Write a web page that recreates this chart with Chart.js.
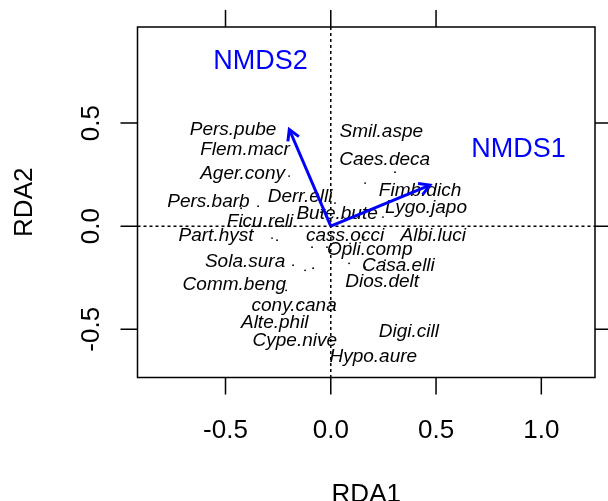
<!DOCTYPE html>
<html>
<head>
<meta charset="utf-8">
<script src="https://cdn.jsdelivr.net/npm/chart.js@4/dist/chart.umd.min.js"></script>
<style>
  html, body { margin: 0; padding: 0; background: #fff; }
  #wrap { width: 608px; height: 501px; }
</style>
</head>
<body>
<div id="wrap"><canvas id="rdaChart"></canvas></div>
<script>
// species scores (label centres)
const speciesNames = ['Pers.pube', 'Flem.macr', 'Ager.cony', 'Pers.barb', 'Derr.elli', 'Bute.bute',
  'Ficu.reli', 'Part.hyst', 'cass.occi', 'Smil.aspe', 'Caes.deca', 'Fimb.dich', 'Lygo.japo',
  'Albi.luci', 'Opli.comp', 'Casa.elli', 'Dios.delt', 'Digi.cill', 'Hypo.aure', 'Sola.sura',
  'Comm.beng', 'cony.cana', 'Alte.phil', 'Cype.nive'];
const speciesX = [-0.464, -0.407, -0.419, -0.581, -0.146, 0.030, -0.336, -0.545, 0.068, 0.240, 0.256,
  0.424, 0.452, 0.487, 0.185, 0.321, 0.244, 0.371, 0.202, -0.407, -0.458, -0.174, -0.266, -0.171];
const speciesY = [0.466, 0.372, 0.252, 0.121, 0.142, 0.062, 0.021, -0.044, -0.044, 0.458, 0.324,
  0.171, 0.091, -0.044, -0.113, -0.193, -0.270, -0.510, -0.634, -0.173, -0.286, -0.388, -0.469, -0.557];

// site scores (tiny dots)
const siteX = [-0.198, 0.163, 0.020, -0.345, -0.046, 0.248, -0.279, -0.255, -0.089, -0.018, 0.092,
  -0.122, -0.084, -0.179, 0.163, -0.426, 0.305, 0.087, -0.146, -0.212, 0.258, 0.157];
const siteY = [0.243, 0.209, 0.112, 0.097, 0.068, 0.044, -0.058, -0.068, -0.102, -0.102, -0.083,
  -0.214, -0.204, -0.189, -0.199, 0.087, 0.262, -0.180, -0.374, -0.311, -0.165, -0.053];

// fitted vectors
const vectorNames = ['NMDS1', 'NMDS2'];
const vectorX = [0.471, -0.197];
const vectorY = [0.199, 0.469];
const vectorLabelX = [0.892, -0.334];
const vectorLabelY = [0.372, 0.798];

const bottomTicks = [-0.5, 0, 0.5, 1.0];
const topTicks = [-0.5, 0, 0.5];
const leftTicks = [-0.5, 0, 0.5];
const rightTicks = [-0.5, 0, 0.5];

const FONT = '"Liberation Sans", Arial, Helvetica, sans-serif';
const BLUE = '#0000ff';

const ordiPlugin = {
  id: 'ordi',
  beforeDatasetsDraw(chart) {
    const { ctx, chartArea: a, scales: { x, y } } = chart;
    ctx.save();
    // dotted origin lines
    ctx.strokeStyle = '#000';
    ctx.lineWidth = 1.5;
    ctx.setLineDash([3, 3]);
    ctx.beginPath();
    ctx.moveTo(a.left, y.getPixelForValue(0));
    ctx.lineTo(a.right, y.getPixelForValue(0));
    ctx.moveTo(x.getPixelForValue(0), a.top);
    ctx.lineTo(x.getPixelForValue(0), a.bottom);
    ctx.stroke();
    ctx.setLineDash([]);

    // species labels
    const meta = chart.getDatasetMeta(1);
    ctx.fillStyle = '#000';
    ctx.font = 'italic 19px ' + FONT;
    ctx.textAlign = 'center';
    ctx.textBaseline = 'middle';
    meta.data.forEach((pt, i) => ctx.fillText(speciesNames[i], pt.x, pt.y));
    ctx.restore();
  },
  afterDatasetsDraw(chart) {
    const { ctx, chartArea: a, scales: { x, y } } = chart;
    ctx.save();
    // arrowheads
    ctx.strokeStyle = BLUE;
    ctx.lineWidth = 3;
    ctx.lineCap = 'butt';
    for (let d = 2; d < 2 + vectorNames.length; d++) {
      const pts = chart.getDatasetMeta(d).data;
      const x0 = pts[0].x, y0 = pts[0].y, x1 = pts[1].x, y1 = pts[1].y;
      const ang = Math.atan2(y1 - y0, x1 - x0);
      const len = 12, spread = Math.PI / 6;
      ctx.beginPath();
      ctx.moveTo(x1 - len * Math.cos(ang - spread), y1 - len * Math.sin(ang - spread));
      ctx.lineTo(x1, y1);
      ctx.lineTo(x1 - len * Math.cos(ang + spread), y1 - len * Math.sin(ang + spread));
      ctx.stroke();
    }
    // vector labels
    ctx.fillStyle = BLUE;
    ctx.font = '27px ' + FONT;
    ctx.textAlign = 'center';
    ctx.textBaseline = 'middle';
    vectorNames.forEach((n, i) => {
      ctx.fillText(n, x.getPixelForValue(vectorLabelX[i]), y.getPixelForValue(vectorLabelY[i]));
    });

    // frame
    ctx.strokeStyle = '#000';
    ctx.lineWidth = 1.5;
    ctx.strokeRect(a.left, a.top, a.right - a.left, a.bottom - a.top);

    // ticks
    const tl = 17;
    ctx.beginPath();
    bottomTicks.forEach(v => { const px = x.getPixelForValue(v); ctx.moveTo(px, a.bottom); ctx.lineTo(px, a.bottom + tl); });
    topTicks.forEach(v => { const px = x.getPixelForValue(v); ctx.moveTo(px, a.top); ctx.lineTo(px, a.top - tl); });
    leftTicks.forEach(v => { const py = y.getPixelForValue(v); ctx.moveTo(a.left, py); ctx.lineTo(a.left - tl, py); });
    rightTicks.forEach(v => { const py = y.getPixelForValue(v); ctx.moveTo(a.right, py); ctx.lineTo(a.right + tl, py); });
    ctx.stroke();

    // tick labels
    ctx.fillStyle = '#000';
    ctx.font = '26px ' + FONT;
    ctx.textAlign = 'center';
    ctx.textBaseline = 'alphabetic';
    bottomTicks.forEach(v => ctx.fillText(v.toFixed(1), x.getPixelForValue(v), 438));
    leftTicks.forEach(v => {
      ctx.save();
      ctx.translate(99, y.getPixelForValue(v));
      ctx.rotate(-Math.PI / 2);
      ctx.fillText(v.toFixed(1), 0, 0);
      ctx.restore();
    });

    // axis titles
    ctx.fillText('RDA1', (a.left + a.right) / 2, 502);
    ctx.save();
    ctx.translate(32, (a.top + a.bottom) / 2);
    ctx.rotate(-Math.PI / 2);
    ctx.fillText('RDA2', 0, 0);
    ctx.restore();
    ctx.restore();
  }
};

const vectorSets = vectorNames.map((n, i) => ({
  label: n,
  type: 'line',
  data: [{ x: 0, y: 0 }, { x: vectorX[i], y: vectorY[i] }],
  borderColor: BLUE,
  borderWidth: 3,
  pointRadius: 0,
  fill: false
}));

new Chart(document.getElementById('rdaChart'), {
  type: 'scatter',
  data: {
    datasets: [
      {
        label: 'sites',
        data: siteX.map((v, i) => ({ x: v, y: siteY[i] })),
        backgroundColor: '#000',
        borderWidth: 0,
        pointRadius: 0.9
      },
      {
        label: 'species',
        data: speciesX.map((v, i) => ({ x: v, y: speciesY[i] })),
        pointRadius: 0
      },
      ...vectorSets
    ]
  },
  options: {
    responsive: true,
    maintainAspectRatio: false,
    animation: false,
    layout: { padding: { left: 137.5, right: 13, top: 27, bottom: 123.5 } },
    scales: {
      x: { type: 'linear', display: false, min: -0.918, max: 1.255 },
      y: { type: 'linear', display: false, min: -0.734, max: 0.966 }
    },
    plugins: { legend: { display: false }, tooltip: { enabled: false } }
  },
  plugins: [ordiPlugin]
});
</script>
</body>
</html>
